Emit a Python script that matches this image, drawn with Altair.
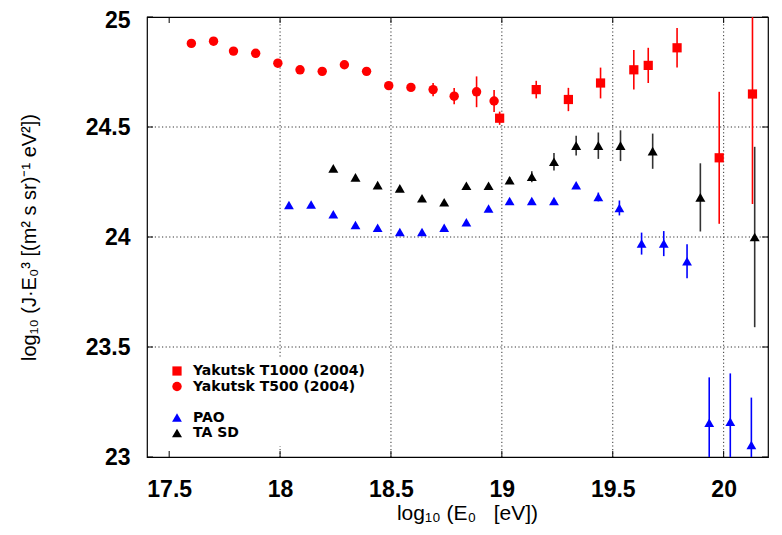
import altair as alt
import pandas as pd

# ---- data ----
series_names = ["Yakutsk T1000 (2004)", "Yakutsk T500 (2004)", " ", "PAO", "TA SD"]

t1000_x = [18.99, 19.155, 19.30, 19.445, 19.595, 19.66, 19.79, 19.98, 20.13]
t1000_y = [24.54, 24.67, 24.625, 24.70, 24.76, 24.78, 24.86, 24.36, 24.65]
t1000_e = [0.03, 0.04, 0.053, 0.07, 0.09, 0.08, 0.09, 0.30, 0.50]

t500_x = [17.60, 17.70, 17.79, 17.89, 17.99, 18.09, 18.19, 18.29, 18.39, 18.49,
          18.59, 18.69, 18.785, 18.886, 18.965]
t500_y = [24.88, 24.89, 24.845, 24.835, 24.79, 24.76, 24.753, 24.783, 24.753, 24.688,
          24.68, 24.67, 24.64, 24.66, 24.618]
t500_e = [0, 0, 0, 0, 0, 0, 0, 0, 0, 0.01, 0.01, 0.03, 0.037, 0.07, 0.05]

pao_x = [18.04, 18.14, 18.24, 18.34, 18.44, 18.54, 18.64, 18.74, 18.84, 18.94, 19.035,
         19.135, 19.235, 19.335, 19.435, 19.53, 19.63, 19.73, 19.835, 19.935, 20.03, 20.125]
pao_y = [24.145, 24.148, 24.103, 24.055, 24.042, 24.023, 24.023, 24.042, 24.067, 24.13, 24.164,
         24.164, 24.164, 24.235, 24.182, 24.132, 23.97, 23.97, 23.89, 23.156, 23.16, 23.055]
pao_e = [0, 0, 0, 0, 0, 0, 0, 0, 0, 0, 0, 0, 0, 0.01, 0.02,
         0.034, 0.05, 0.057, 0.077, 0.206, 0.22, 0.215]

ta_x = [18.24, 18.34, 18.44, 18.54, 18.64, 18.74, 18.84, 18.94, 19.035, 19.135,
        19.235, 19.335, 19.435, 19.535, 19.68, 19.895, 20.14]
ta_y = [24.312, 24.271, 24.236, 24.221, 24.176, 24.158, 24.233, 24.233, 24.258, 24.274,
        24.342, 24.415, 24.415, 24.415, 24.39, 24.18, 24.0]
ta_e = [0, 0, 0, 0, 0, 0, 0, 0, 0.015, 0.025, 0.04, 0.045, 0.06, 0.07, 0.08, 0.155, 0.41]

x_ticks = [17.5, 18, 18.5, 19, 19.5, 20]
y_ticks = [23, 23.5, 24, 24.5, 25]
x_grid = [18, 18.5, 19, 19.5, 20]
y_grid = [23.5, 24, 24.5]

x_title = "log₁₀ (E₀\u00a0\u00a0\u00a0[eV])"
y_title = "log₁₀ (J·E₀³ [(m² s sr)⁻¹ eV²])"

# ---- styles ----
colors = ["#ff0000", "#ff0000", "#ffffff", "#0000ff", "#000000"]
err_colors = {"Yakutsk T1000 (2004)": "#ff0000", "Yakutsk T500 (2004)": "#ff0000",
              "PAO": "#0000ff", "TA SD": "#333333"}
shapes = ["square", "circle", "circle", "triangle-up", "triangle-up"]
sizes = [85, 100, 0, 130, 64]

rows = []
for name, xs_, ys_, es_ in [(series_names[0], t1000_x, t1000_y, t1000_e),
                            (series_names[1], t500_x, t500_y, t500_e),
                            (series_names[3], pao_x, pao_y, pao_e),
                            (series_names[4], ta_x, ta_y, ta_e)]:
    for x, y, e in zip(xs_, ys_, es_):
        rows.append({"series": name, "x": x, "y": y, "lo": y - e, "hi": y + e,
                     "err": e, "ecol": err_colors[name]})
df = pd.DataFrame(rows)

W, H = 621, 440
xs = alt.Scale(domain=[17.4, 20.2], nice=False, zero=False)
ys = alt.Scale(domain=[23, 25], nice=False, zero=False)

x_axis = alt.Axis(values=x_ticks, format="~g", grid=False, ticks=False, domain=False,
                  labelFont="Liberation Sans", labelFontWeight="bold", labelFontSize=23,
                  labelColor="black", labelPadding=21,
                  title=x_title, titleFont="Liberation Sans",
                  titleFontWeight="normal", titleFontSize=21, titleColor="black",
                  titlePadding=1, titleX=320)
y_axis = alt.Axis(values=y_ticks, format="~g", grid=False, ticks=False, domain=False,
                  labelFont="Liberation Sans", labelFontWeight="bold", labelFontSize=23,
                  labelColor="black", labelPadding=17,
                  labelOffset=alt.condition("datum.value == 25", alt.value(3), alt.value(0)),
                  title=y_title, titleFont="Liberation Sans",
                  titleFontWeight="normal", titleFontSize=20, titleColor="black",
                  titlePadding=46)


def X(field):
    return alt.X(field, scale=xs, axis=x_axis)


def Y(field):
    return alt.Y(field, scale=ys, axis=y_axis)


grid_style = dict(color="#333333", strokeDash=[1.2, 2.4], strokeWidth=1)
xgrid = alt.Chart(pd.DataFrame({"v": x_grid})).mark_rule(**grid_style).encode(x=X("v:Q"))
ygrid = alt.Chart(pd.DataFrame({"v": y_grid})).mark_rule(**grid_style).encode(y=Y("v:Q"))

xt = pd.DataFrame({"v": x_ticks})
yt = pd.DataFrame({"v": y_ticks})
tick_style = dict(color="black", strokeWidth=1)
tb = alt.Chart(xt).mark_rule(**tick_style).encode(x=X("v:Q"), y=alt.value(H), y2=alt.value(H - 6))
tt = alt.Chart(xt).mark_rule(**tick_style).encode(x=X("v:Q"), y=alt.value(0), y2=alt.value(6))
tl = alt.Chart(yt).mark_rule(**tick_style).encode(y=Y("v:Q"), x=alt.value(0), x2=alt.value(6))
tr = alt.Chart(yt).mark_rule(**tick_style).encode(y=Y("v:Q"), x=alt.value(W), x2=alt.value(W - 6))

errs = alt.Chart(df).transform_filter("datum.err > 0").mark_rule(
    strokeWidth=1.6, clip=True).encode(
    x=X("x:Q"),
    y=Y("lo:Q"),
    y2="hi:Q",
    color=alt.Color("ecol:N", scale=None),
)

pts = alt.Chart(df).mark_point(filled=True, opacity=1, strokeWidth=0).encode(
    x=X("x:Q"),
    y=Y("y:Q"),
    color=alt.Color("series:N", scale=alt.Scale(domain=series_names, range=colors),
                    legend=alt.Legend(title=None)),
    shape=alt.Shape("series:N", scale=alt.Scale(domain=series_names, range=shapes),
                    legend=alt.Legend(title=None)),
    size=alt.Size("series:N", scale=alt.Scale(domain=series_names, range=sizes),
                  legend=alt.Legend(title=None)),
)

chart = alt.layer(xgrid, ygrid, errs, pts, tb, tt, tl, tr).properties(
    width=W, height=H,
    autosize=alt.AutoSizeParams(type="none"),
    padding={"left": 139, "top": 9, "right": 6, "bottom": 70},
).configure_view(stroke="black", strokeWidth=1.2).configure_legend(
    orient="none", legendX=17, legendY=341, padding=6, fillColor="white",
    strokeColor=None, labelFont="DejaVu Sans", labelFontWeight="bold", labelFontSize=14,
    labelColor="black", labelOffset=9, labelLimit=400, rowPadding=1.5, symbolOpacity=1,
    symbolStrokeWidth=0,
)

chart.save("out.html", embed_options={"renderer": "svg", "actions": False})
